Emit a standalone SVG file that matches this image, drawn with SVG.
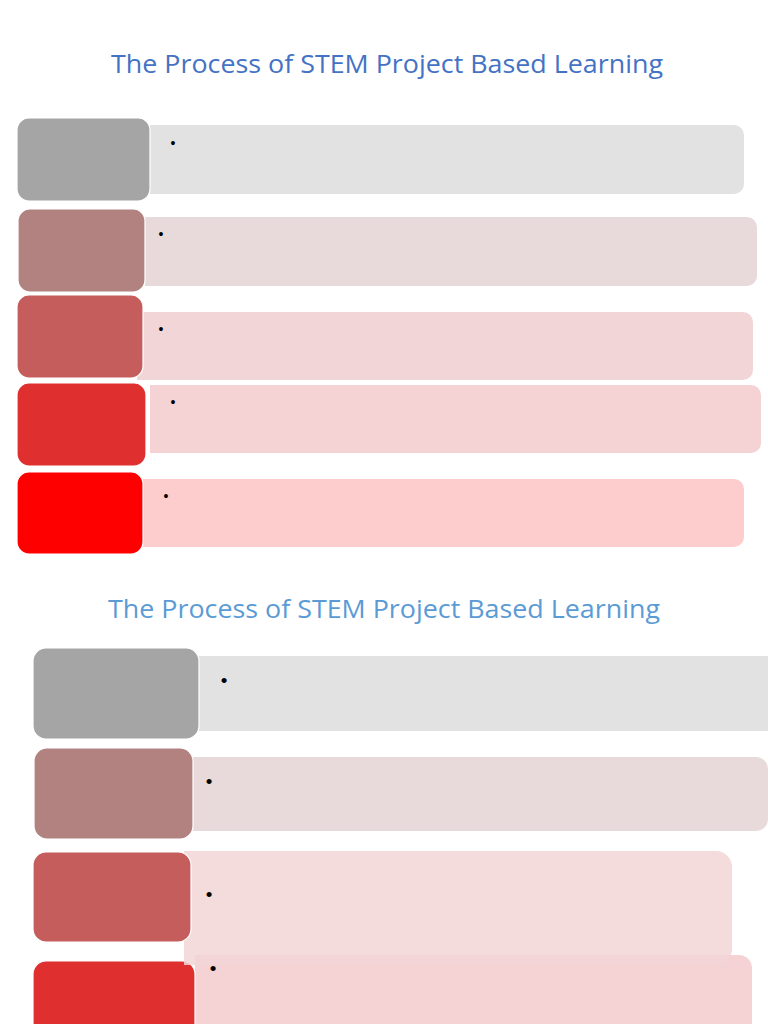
<svg xmlns="http://www.w3.org/2000/svg" width="768" height="1024" viewBox="0 0 768 1024">
<style>
.title{font-family:"Open Sans","Liberation Sans",sans-serif;font-size:25px;text-anchor:middle}
.t1{fill:#4472C4}
.t2{fill:#5B9BD5}
.dk{stroke:#ffffff;stroke-width:1.2}
.b1{font-family:"Liberation Sans",sans-serif;font-size:14px;fill:#000;text-anchor:middle}
.b2{font-family:"Liberation Sans",sans-serif;font-size:19px;fill:#000;text-anchor:middle}
.c1d{fill:#A5A5A5}.c1l{fill:#E2E2E2}
.c2d{fill:#B28280}.c2l{fill:#E8DADA}
.c3d{fill:#C65D5D}.c3l{fill:#F2D6D7}
.c4d{fill:#DF2F2F}.c4l{fill:#F5D2D3}
.c5d{fill:#FF0000}.c5l{fill:#FDCCCD}
</style>
<rect width="768" height="1024" fill="#ffffff"/>
<text class="title t1" x="387" y="73" textLength="552" lengthAdjust="spacingAndGlyphs">The Process of STEM Project Based Learning</text>

<g id="s1r1">
<path class="c1l" d="M150 125 H734 A10 10 0 0 1 744 135 V184 A10 10 0 0 1 734 194 H150 Z"/>
<rect class="c1d dk" x="17" y="118" width="133" height="83" rx="12"/>
<text class="b1" x="173" y="148">•</text>
</g>
<g id="s1r2">
<path class="c2l" d="M145 217 H747 A10 10 0 0 1 757 227 V276 A10 10 0 0 1 747 286 H145 Z"/>
<rect class="c2d dk" x="18" y="209" width="127" height="83" rx="12"/>
<text class="b1" x="161" y="239">•</text>
</g>
<g id="s1r3">
<path class="c3l" d="M137 312 H743 A10 10 0 0 1 753 322 V370 A10 10 0 0 1 743 380 H137 Z"/>
<rect class="c3d dk" x="17" y="295" width="126" height="83" rx="12"/>
<text class="b1" x="161" y="334">•</text>
</g>
<g id="s1r4">
<path class="c4l" d="M150 385 H751 A10 10 0 0 1 761 395 V443 A10 10 0 0 1 751 453 H150 Z"/>
<rect class="c4d dk" x="17" y="383" width="129" height="83" rx="12"/>
<text class="b1" x="173" y="407">•</text>
</g>
<g id="s1r5">
<path class="c5l" d="M143 479 H734 A10 10 0 0 1 744 489 V537 A10 10 0 0 1 734 547 H143 Z"/>
<rect class="c5d dk" x="17" y="472" width="126" height="82" rx="12"/>
<text class="b1" x="166" y="501">•</text>
</g>

<text class="title t2" x="384" y="618" textLength="552" lengthAdjust="spacingAndGlyphs">The Process of STEM Project Based Learning</text>

<g id="s2r1">
<rect class="c1l" x="199" y="656" width="580" height="75"/>
<rect class="c1d dk" x="33" y="648" width="166" height="91" rx="13"/>
<text class="b2" x="224" y="686.5">•</text>
</g>
<g id="s2r2">
<path class="c2l" d="M193 757 H756 A12 12 0 0 1 768 769 V819 A12 12 0 0 1 756 831 H193 Z"/>
<rect class="c2d dk" x="34" y="748" width="159" height="91" rx="13"/>
<text class="b2" x="209" y="787.5">•</text>
</g>
<g id="s2r4">
<path class="c4l" d="M195 955 H739 A13 13 0 0 1 752 968 V1030 H195 Z"/>
<rect class="c4d dk" x="33" y="961" width="162" height="80" rx="13"/>
<text class="b2" x="213" y="974.5">•</text>
</g>
<g id="s2r3">
<path class="c3l" d="M184 851 H716 A16 16 0 0 1 732 867 V949 A16 16 0 0 1 716 965 H184 Z" fill-opacity="0.85"/>
<rect class="c3d dk" x="33" y="852" width="158" height="90" rx="13"/>
<text class="b2" x="209" y="900.5">•</text>
</g>
</svg>
